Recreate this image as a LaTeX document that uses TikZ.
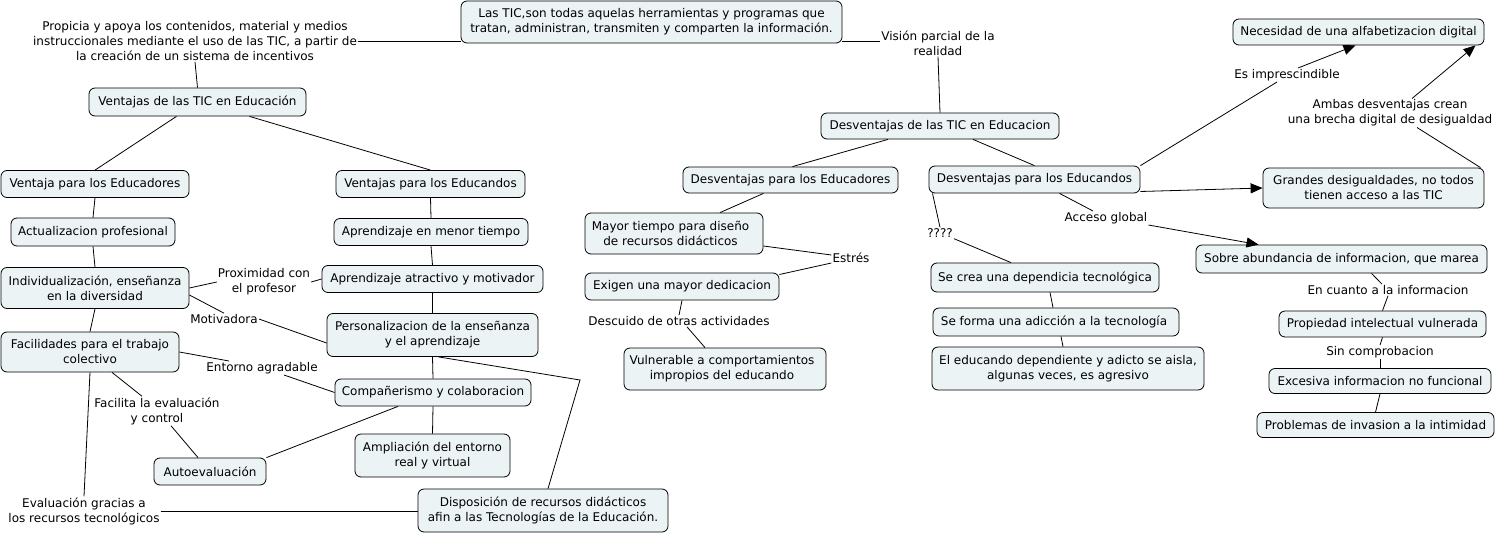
\documentclass[tikz,border=0pt]{standalone}
\usepackage{fontspec}
\setmainfont{DejaVu Sans}
\usetikzlibrary{arrows.meta}
\definecolor{cfill}{RGB}{236,243,245}
\tikzset{
  concept/.style={draw=black, line width=0.8pt, fill=cfill, rounded corners=6pt, inner sep=0pt, align=center, font=\fontsize{12}{15}\selectfont},
  lbl/.style={inner sep=1pt, align=center, font=\fontsize{12}{15}\selectfont},
  conn/.style={draw=black, line width=0.8pt},
  arr/.style={conn, -{Triangle[length=12pt,width=10pt]}}
}
\begin{document}
\begin{tikzpicture}[x=1pt,y=-1pt]
\useasboundingbox[fill=white] (0,0) rectangle (1498,535);
% concepts
\node[concept, minimum width=381pt, minimum height=42pt] (tic) at (651.5,22) {Las TIC,son todas aquelas herramientas y programas que\\tratan, administran, transmiten y comparten la información.};
\node[concept, minimum width=217pt, minimum height=28pt] (ventajas) at (197.5,102) {Ventajas de las TIC en Educación};
\node[concept, minimum width=188pt, minimum height=27pt] (vedu) at (95,184) {Ventaja para los Educadores};
\node[concept, minimum width=189pt, minimum height=27pt] (vedn) at (430.5,184) {Ventajas para los Educandos};
\node[concept, minimum width=164pt, minimum height=28pt] (act) at (93,232) {Actualizacion profesional};
\node[concept, minimum width=188pt, minimum height=41pt] (indiv) at (95,288) {Individualización, enseñanza\\en la diversidad};
\node[concept, minimum width=178pt, minimum height=40pt] (facil) at (90,352) {Facilidades para el trabajo\\colectivo};
\node[concept, minimum width=194pt, minimum height=27pt] (aprmen) at (431,232) {Aprendizaje en menor tiempo};
\node[concept, minimum width=221pt, minimum height=27pt] (aprat) at (432.5,279) {Aprendizaje atractivo y motivador};
\node[concept, minimum width=211pt, minimum height=43pt] (pers) at (432.5,335) {Personalizacion de la enseñanza\\y el aprendizaje};
\node[concept, minimum width=196pt, minimum height=27pt] (comp) at (433,392.5) {Compañerismo y colaboracion};
\node[concept, minimum width=155pt, minimum height=43pt] (ampl) at (432.5,455.5) {Ampliación del entorno\\real y virtual};
\node[concept, minimum width=112pt, minimum height=27pt] (auto) at (210,471.5) {Autoevaluación};
\node[concept, minimum width=250pt, minimum height=43pt] (disp) at (543,510.5) {Disposición de recursos didácticos\\afin a las Tecnologías de la Educación.};
\node[concept, minimum width=238pt, minimum height=26pt] (desvtic) at (940,126) {Desventajas de las TIC en Educacion};
\node[concept, minimum width=215pt, minimum height=26pt] (desvedu) at (790.5,180) {Desventajas para los Educadores};
\node[concept, minimum width=211pt, minimum height=27pt] (desvedn) at (1034.5,179.5) {Desventajas para los Educandos};
\node[concept, minimum width=178pt, minimum height=41pt] (mayor) at (674,233.5) {Mayor tiempo para diseño\hspace*{7pt}\\de recursos didácticos\hspace*{7pt}};
\node[concept, minimum width=194pt, minimum height=27pt] (exig) at (682,286.5) {Exigen una mayor dedicacion};
\node[concept, minimum width=202pt, minimum height=42pt] (vuln) at (725,369) {Vulnerable a comportamientos\hspace*{6pt}\\impropios del educando\hspace*{6pt}};
\node[concept, minimum width=228pt, minimum height=29pt] (secrea) at (1045,277.5) {Se crea una dependicia tecnológica};
\node[concept, minimum width=246pt, minimum height=28pt] (seforma) at (1056,322) {Se forma una adicción a la tecnología\hspace*{4pt}};
\node[concept, minimum width=272pt, minimum height=43pt] (eledu) at (1068,368.5) {El educando dependiente y adicto se aisla,\\algunas veces, es agresivo};
\node[concept, minimum width=251pt, minimum height=26pt] (neces) at (1358.5,32) {Necesidad de una alfabetizacion digital};
\node[concept, minimum width=221pt, minimum height=40pt] (grandes) at (1373.5,188) {Grandes desigualdades, no todos\\tienen acceso a las TIC};
\node[concept, minimum width=291pt, minimum height=28pt] (sobre) at (1341.5,259) {Sobre abundancia de informacion, que marea};
\node[concept, minimum width=207pt, minimum height=26pt] (prop) at (1382.5,324) {Propiedad intelectual vulnerada};
\node[concept, minimum width=222pt, minimum height=25pt] (exces) at (1380,381) {Excesiva informacion no funcional};
\node[concept, minimum width=237pt, minimum height=25pt] (probl) at (1375.5,425) {Problemas de invasion a la intimidad};
% linking phrases
\node[lbl] (lab1) at (195,41) {Propicia y apoya los contenidos, material y medios\\instruccionales mediante el uso de las TIC, a partir de\\la creación de un sistema de incentivos};
\node[lbl] (vis) at (938,43) {Visión parcial de la\\realidad};
\node[lbl] (prox) at (264,282) {Proximidad con\\el profesor};
\node[lbl] (motiv) at (224,319) {Motivadora};
\node[lbl] (entorno) at (262,368) {Entorno agradable};
\node[lbl] (facilita) at (157,411) {Facilita la evaluación\\y control};
\node[lbl] (evalg) at (84,511) {Evaluación gracias a\\los recursos tecnológicos};
\node[lbl] (estres) at (851,258) {Estrés};
\node[lbl] (descu) at (679,321) {Descuido de otras actividades};
\node[lbl] (interr) at (940,233) {????};
\node[lbl] (acceso) at (1106,218) {Acceso global};
\node[lbl] (esimp) at (1287,75) {Es imprescindible};
\node[lbl] (ambas) at (1390,113) {Ambas desventajas crean\\una brecha digital de desigualdad};
\node[lbl] (encuanto) at (1388,290) {En cuanto a la informacion};
\node[lbl] (sincomp) at (1380,352) {Sin comprobacion};
\coordinate (c1) at (580,380);
\coordinate (vw) at ([yshift=2pt]vis.west);
% connectors
\draw[conn] (lab1.east) -- (lab1.east -| tic.west);
\draw[conn] (ventajas.north) -- (lab1.south);
\draw[conn] ([xshift=-21pt]ventajas.south) -- (vedu.north);
\draw[conn] ([xshift=52pt]ventajas.south) -- (vedn.north);
\draw[conn] (vedu.south) -- (act.north);
\draw[conn] (act.south) -- (indiv.north);
\draw[conn] (indiv.south) -- (facil.north);
\draw[conn] (indiv.east) -- (prox.west);
\draw[conn] (prox.east) -- (aprat.west);
\draw[conn] ([yshift=-7pt]indiv.east) -- (motiv.north);
\draw[conn] (motiv.east) -- ([yshift=-8pt]pers.west);
\draw[conn] (facil.east) -- ([xshift=-33pt]entorno.north);
\draw[conn] ([xshift=22pt]entorno.south) -- (comp.west);
\draw[conn] ([xshift=22pt]facil.south) -- ([xshift=-15pt]facilita.north);
\draw[conn] ([xshift=14pt]facilita.south) -- ([xshift=-12pt]auto.north);
\draw[conn] (facil.south) -- (evalg.north);
\draw[conn] (evalg.east) -- (evalg.east -| disp.west);
\draw[conn] ([xshift=-35pt]comp.south) -- (auto.north east);
\draw[conn] (vedn.south) -- (aprmen.north);
\draw[conn] (aprmen.south) -- (aprat.north);
\draw[conn] (aprat.south) -- (pers.north);
\draw[conn] (pers.south) -- (comp.north);
\draw[conn] (comp.south) -- (ampl.north);
\draw[conn] ([xshift=6pt]pers.south) -- (c1) -- ([xshift=5pt]disp.north);
\draw[conn] (vw) -- (vw -| tic.east);
\draw[conn] (vis.south) -- (desvtic.north);
\draw[conn] ([xshift=-52pt]desvtic.south) -- ([xshift=2pt]desvedu.north);
\draw[conn] ([xshift=33pt]desvtic.south) -- (desvedn.north);
\draw[conn] ([xshift=-27pt]desvedu.south) -- ([xshift=46pt]mayor.north);
\draw[conn] ([yshift=-12.5pt]mayor.east) -- ([yshift=3pt]estres.west);
\draw[conn] ([yshift=-5pt]estres.west) -- ([yshift=12pt]exig.east);
\draw[conn] (exig.south) -- (descu.north);
\draw[conn] ([xshift=8pt]descu.south) -- ([xshift=-20pt]vuln.north);
\draw[conn] ([xshift=-102pt]desvedn.south) -- (interr.north);
\draw[conn] (interr.south east) -- ([xshift=-34pt]secrea.north);
\draw[conn] ([xshift=5pt]secrea.south) -- ([xshift=-3pt]seforma.north);
\draw[conn] ([xshift=5pt]seforma.south) -- ([xshift=-5pt]eledu.north);
\draw[conn] ([xshift=25pt]desvedn.south) -- ([xshift=-13pt]acceso.north);
\draw[arr] (acceso.south east) -- ([xshift=-83pt]sobre.north);
\draw[conn] (desvedn.north east) -- ([xshift=-10pt]esimp.south);
\draw[arr] ([xshift=11pt]esimp.north) -- ([xshift=-3pt]neces.south);
\draw[arr] ([yshift=-12pt]desvedn.east) -- (grandes.west);
\draw[conn] ([xshift=107pt]grandes.north) -- ([xshift=27pt]ambas.south);
\draw[arr] ([xshift=22pt]ambas.north) -- ([xshift=117pt]neces.south);
\draw[conn] ([xshift=30pt]sobre.south) -- ([xshift=-6pt]encuanto.north);
\draw[conn] (encuanto.south) -- (prop.north);
\draw[conn] (prop.south) -- (sincomp.north);
\draw[conn] (sincomp.south) -- (exces.north);
\draw[conn] (exces.south) -- (probl.north);
\end{tikzpicture}
\end{document}
